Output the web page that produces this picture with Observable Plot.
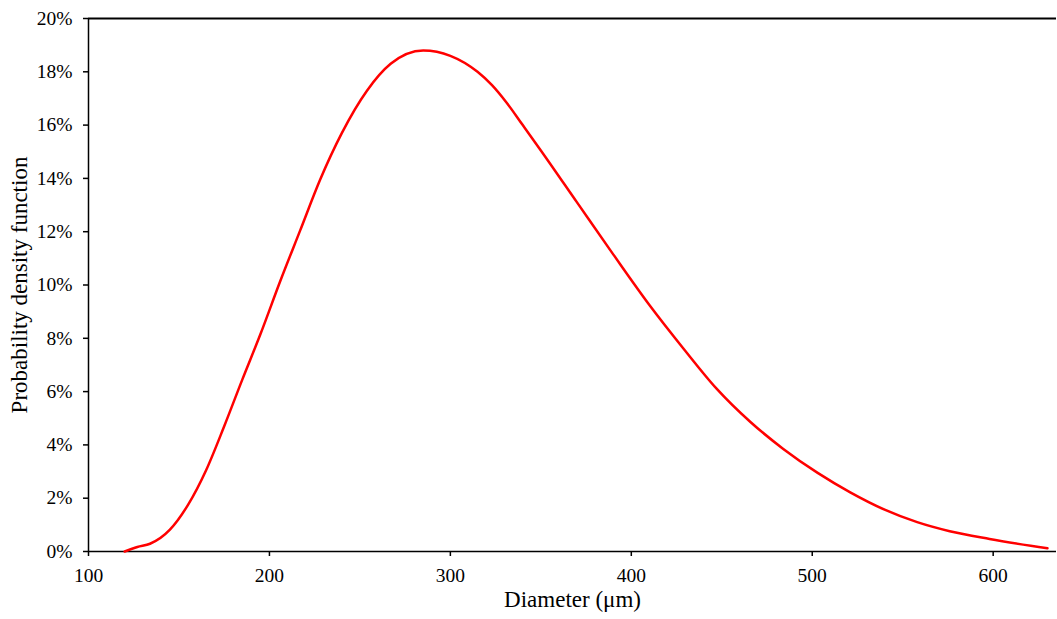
<!DOCTYPE html>
<html>
<head>
<meta charset="utf-8">
<script src="https://cdn.jsdelivr.net/npm/d3@7"></script>
<script src="https://cdn.jsdelivr.net/npm/@observablehq/plot@0.6"></script>
<style>
  html, body { margin: 0; padding: 0; background: #fff; }
</style>
</head>
<body>
<div id="chart"></div>
<script>
// Diameter (µm) and probability density (%)
const diameter = [120, 127, 134, 145, 155, 165, 175, 185, 195, 206, 217, 228, 240, 254, 267, 285, 300, 315, 323, 331, 340, 350, 370, 390, 410, 429, 447, 466, 484, 503, 521, 540, 558, 576, 598, 630];
const density  = [0, 0.17, 0.29, 0.82, 1.75, 3.05, 4.7, 6.45, 8.15, 10.15, 12.05, 13.95, 15.7, 17.3, 18.3, 18.8, 18.6, 18.0, 17.5, 16.85, 16.0, 15.05, 13.1, 11.15, 9.25, 7.6, 6.12, 4.85, 3.85, 2.95, 2.22, 1.57, 1.1, 0.76, 0.47, 0.12];

const xTicks = [100, 200, 300, 400, 500, 600];
const yTicks = [0, 2, 4, 6, 8, 10, 12, 14, 16, 18, 20];
const xTitle = "Diameter (μm)";
const yTitle = "Probability density function";

const data = diameter.map((d, i) => ({d, p: density[i]}));

const chart = Plot.plot({
  width: 1057,
  height: 619,
  marginLeft: 88,
  marginRight: 1,
  marginTop: 18,
  marginBottom: 68,
  style: {fontFamily: "'Liberation Serif', 'Times New Roman', serif", fontSize: "19.5px", color: "#000", background: "#fff"},
  x: {domain: [100, 635]},
  y: {domain: [0, 20]},
  marks: [
    Plot.axisY({ticks: yTicks, tickSize: 5, tickPadding: 11, tickFormat: d => d + "%", label: null, strokeWidth: 1.5, fontSize: 19.5}),
    Plot.axisX({ticks: xTicks, tickSize: 5, tickPadding: 12, tickFormat: d => String(d), label: null, strokeWidth: 1.5, fontSize: 19.5}),
    Plot.ruleX([100], {stroke: "#000", strokeWidth: 1.5}),
    Plot.ruleY([0], {stroke: "#000", strokeWidth: 1.5}),
    Plot.ruleY([20], {stroke: "#000", strokeWidth: 2}),
    Plot.line(data, {x: "d", y: "p", stroke: "#ff0000", strokeWidth: 2.5, curve: "monotone-x"}),
    Plot.text([xTitle], {frameAnchor: "bottom", dy: 55, text: d => d, fontSize: 23, fill: "#000", textAnchor: "middle"}),
    Plot.text([yTitle], {frameAnchor: "left", dx: -69, rotate: -90, text: d => d, fontSize: 23, fill: "#000", textAnchor: "middle"})
  ]
});
document.getElementById("chart").appendChild(chart);
</script>
</body>
</html>
